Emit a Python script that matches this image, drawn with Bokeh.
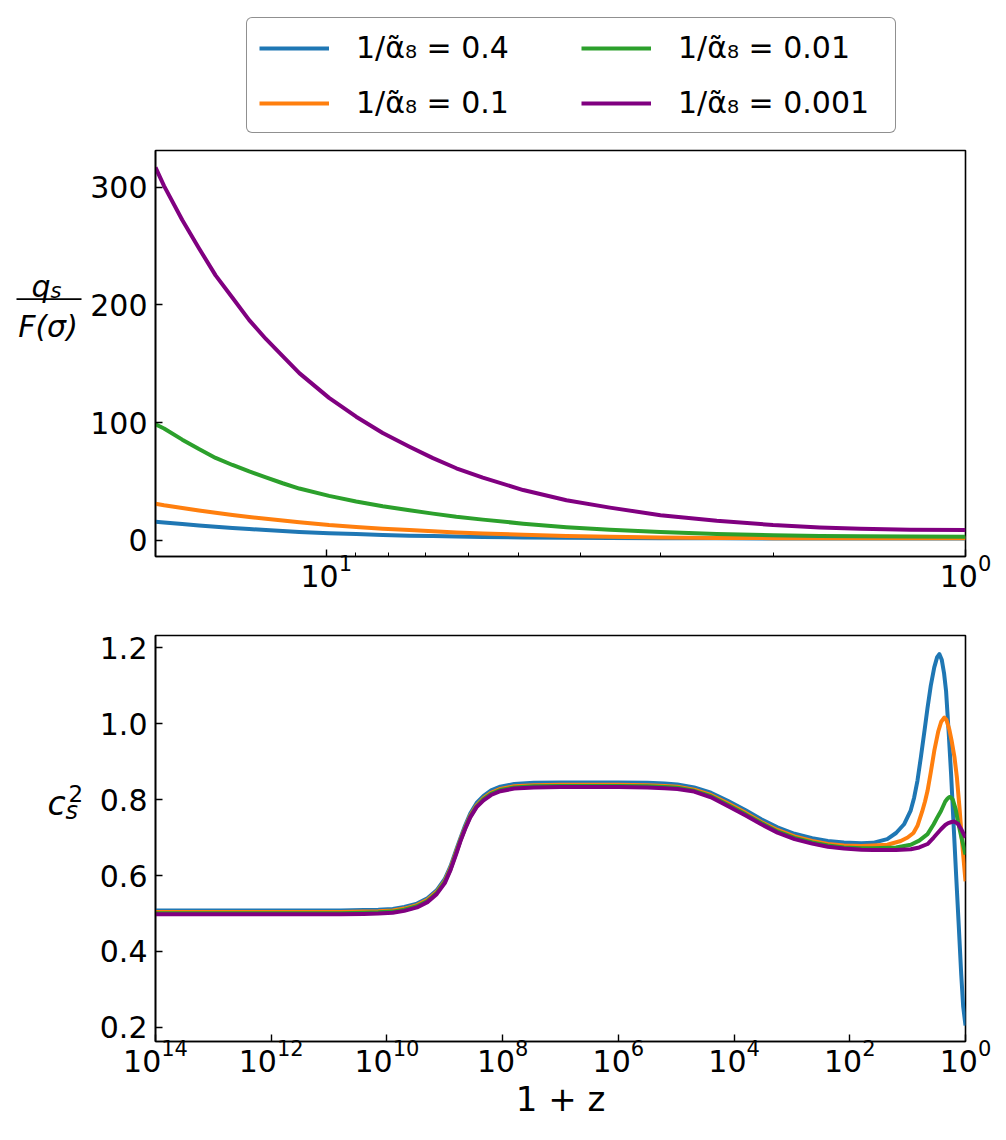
from bokeh.plotting import figure
from bokeh.layouts import column, row
from bokeh.models import (Range1d, FixedTicker, PrintfTickFormatter,
                          Legend, LegendItem)
from bokeh.core.properties import value
from bokeh.embed import file_html
from bokeh.resources import INLINE

# ---------------- data ----------------
series_labels = ["1/α̃₈ = 0.4", "1/α̃₈ = 0.1", "1/α̃₈ = 0.01", "1/α̃₈ = 0.001"]
series_colors = ["#1f77b4", "#ff7f0e", "#2ca02c", "#800080"]

# top panel: q_s / F(sigma) versus 1+z
qs_one_plus_z = [18.5, 17.94, 16.8, 15.82, 14.9, 14.02, 13.2, 12.43, 11.7, 11.02, 9.9, 8.98,
                 8.16, 7.41, 6.81, 6.26, 5.69, 4.92, 4.21, 3.6, 3.0, 2.45, 2.0, 1.69, 1.46,
                 1.22, 1.0]
qs_blue = [15.8, 15.2, 13.9, 12.7, 11.5, 10.5, 9.6, 8.7, 8.0, 7.2, 6.1, 5.3, 4.6, 4.0, 3.6,
           3.2, 2.9, 2.5, 2.2, 2.0, 1.85, 1.7, 1.6, 1.55, 1.5, 1.5, 1.5]
qs_orange = [31.1, 29.8, 27.5, 25.3, 23.4, 21.5, 19.8, 18.3, 16.9, 15.4, 13.0, 11.4, 9.9, 8.7,
             7.7, 6.7, 5.9, 4.7, 3.7, 3.0, 2.5, 2.1, 1.9, 1.8, 1.75, 1.7, 1.7]
qs_green = [98.5, 95.0, 85.5, 77.5, 70.0, 64.0, 58.5, 53.5, 48.5, 44.0, 37.8, 33.0, 29.0, 25.5,
            22.7, 20.0, 17.6, 14.2, 11.2, 9.0, 7.0, 5.5, 4.3, 3.7, 3.4, 3.2, 3.1]
qs_purple = [316.6, 301.0, 272.0, 248.0, 225.0, 206.0, 187.0, 171.0, 156.5, 142.0, 121.0,
             105.0, 91.2, 79.5, 69.8, 61.2, 53.2, 42.7, 34.0, 27.8, 21.3, 16.6, 13.0, 11.0,
             9.9, 9.0, 8.75]

# bottom panel: c_s^2 versus 1+z (x stored as log10(1+z))
cs_head_exp = [14.0, 12.0, 10.8, 10.4, 10.15, 9.9, 9.7, 9.48, 9.3, 9.14, 9.0, 8.9, 8.8, 8.73,
               8.65, 8.56, 8.45, 8.33, 8.2, 8.04, 7.8, 7.46, 7.0, 6.0, 5.5, 5.2, 4.98, 4.69,
               4.4, 4.11, 3.8, 3.53, 3.25, 2.955, 2.65, 2.38, 2.1, 1.8]
cs_blue_head = [0.508, 0.508, 0.508, 0.509, 0.510, 0.512, 0.517, 0.526, 0.540, 0.561, 0.591,
                0.625, 0.669, 0.698, 0.731, 0.763, 0.791, 0.810, 0.824, 0.834, 0.841, 0.844,
                0.845, 0.845, 0.844, 0.842, 0.840, 0.832, 0.818, 0.797, 0.772, 0.748, 0.727,
                0.710, 0.698, 0.691, 0.687, 0.685]
cs_orange_head = [0.504, 0.504, 0.504, 0.505, 0.506, 0.508, 0.513, 0.522, 0.536, 0.557, 0.586,
                  0.620, 0.664, 0.694, 0.726, 0.758, 0.785, 0.804, 0.818, 0.828, 0.835, 0.838,
                  0.839, 0.839, 0.838, 0.836, 0.834, 0.826, 0.812, 0.790, 0.765, 0.741, 0.720,
                  0.703, 0.691, 0.683, 0.679, 0.678]
cs_green_head = [0.501, 0.501, 0.501, 0.502, 0.503, 0.505, 0.510, 0.519, 0.533, 0.554, 0.583,
                 0.617, 0.661, 0.692, 0.724, 0.755, 0.782, 0.801, 0.815, 0.825, 0.832, 0.835,
                 0.836, 0.836, 0.835, 0.833, 0.831, 0.823, 0.809, 0.786, 0.761, 0.738, 0.716,
                 0.699, 0.687, 0.679, 0.674, 0.672]
cs_purple_head = [0.498, 0.498, 0.498, 0.499, 0.500, 0.502, 0.507, 0.516, 0.530, 0.551, 0.580,
                  0.615, 0.658, 0.690, 0.722, 0.753, 0.780, 0.798, 0.812, 0.822, 0.829, 0.832,
                  0.833, 0.833, 0.832, 0.830, 0.828, 0.821, 0.806, 0.783, 0.758, 0.735, 0.713,
                  0.696, 0.684, 0.676, 0.671, 0.668]

cs_blue_tail_exp = [1.6, 1.353, 1.2, 1.062, 0.95, 0.888, 0.83, 0.772, 0.71, 0.656, 0.6, 0.54,
                    0.49, 0.452, 0.41, 0.37, 0.336, 0.29, 0.249, 0.2, 0.163, 0.12, 0.074, 0.04, 0.0]
cs_blue_tail = [0.686, 0.696, 0.712, 0.735, 0.770, 0.805, 0.850, 0.911, 0.980, 1.042, 1.100,
                1.148, 1.175, 1.183, 1.168, 1.132, 1.086, 0.975, 0.867, 0.717, 0.604, 0.478,
                0.340, 0.255, 0.205]
cs_orange_tail_exp = [1.6, 1.35, 1.12, 1.0, 0.9, 0.83, 0.75, 0.7, 0.656, 0.6, 0.54, 0.47, 0.42,
                      0.365, 0.33, 0.28, 0.24, 0.19, 0.15, 0.104, 0.06, 0.0]
cs_orange_tail = [0.679, 0.681, 0.691, 0.700, 0.712, 0.731, 0.768, 0.795, 0.823, 0.872, 0.928,
                  0.980, 1.005, 1.016, 1.010, 0.985, 0.955, 0.911, 0.860, 0.779, 0.690, 0.585]
cs_green_tail_exp = [1.6, 1.2, 0.946, 0.8, 0.656, 0.55, 0.48, 0.424, 0.35, 0.31, 0.279, 0.25,
                     0.22, 0.17, 0.133, 0.07, 0.0]
cs_green_tail = [0.672, 0.674, 0.681, 0.692, 0.709, 0.735, 0.755, 0.770, 0.795, 0.803, 0.807,
                 0.805, 0.800, 0.775, 0.744, 0.700, 0.655]
cs_purple_tail_exp = [1.6, 1.2, 0.946, 0.8, 0.656, 0.55, 0.424, 0.35, 0.3, 0.24, 0.19, 0.13,
                      0.074, 0.0]
cs_purple_tail = [0.667, 0.667, 0.669, 0.674, 0.683, 0.700, 0.722, 0.733, 0.738, 0.741, 0.742,
                  0.736, 0.722, 0.700]

qs_yticks = [0, 100, 200, 300]
qs_xticks = [1, 10]
qs_xminor = [2, 3, 4, 5, 6, 7, 8, 9]
cs_yticks = [0.2, 0.4, 0.6, 0.8, 1.0, 1.2]
cs_xticks = [1e0, 1e2, 1e4, 1e6, 1e8, 1e10, 1e12, 1e14]
cs_xlabel = "1 + z"

FONT = "DejaVu Sans"
TICK_FS = "30px"
LW = 4

TOTAL_W = 995
LEFT_W = 85          # width of the strip holding the y labels
LEG_H = 148          # height of the legend strip
ROW1_H = 458         # height of the first panel row
ROW2_H = 530         # height of the second panel row (incl. x label)


def style(p):
    p.xgrid.visible = False
    p.ygrid.visible = False
    p.outline_line_color = "black"
    p.outline_line_width = 1.6
    p.background_fill_color = "white"
    p.border_fill_color = "white"
    for ax in (p.xaxis[0], p.yaxis[0]):
        ax.axis_line_color = "black"
        ax.axis_line_width = 1.6
        ax.major_tick_in = 7
        ax.major_tick_out = 0
        ax.minor_tick_in = 4
        ax.minor_tick_out = 0
        ax.major_tick_line_width = 1.4
        ax.minor_tick_line_width = 1.0
        ax.major_tick_line_color = "black"
        ax.minor_tick_line_color = "black"
        ax.major_label_text_font = FONT
        ax.major_label_text_font_size = TICK_FS
        ax.major_label_text_color = "black"
        ax.major_label_standoff = 8
    p.xaxis[0].major_label_standoff = -3


def strip(width, height, y_top):
    """A blank figure whose data units are page pixels (y downward)."""
    f = figure(width=width, height=height,
               x_range=Range1d(0, width), y_range=Range1d(y_top + height, y_top),
               x_axis_location=None, y_axis_location=None,
               min_border=0, output_backend="svg", toolbar_location=None)
    f.xgrid.visible = False
    f.ygrid.visible = False
    f.outline_line_color = None
    f.background_fill_color = "white"
    f.border_fill_color = "white"
    return f


def txt(f, x, y, s, size, italic=False, align="left"):
    f.text(x=[x], y=[y], text=[s], text_font=value(FONT), text_font_size=size,
           text_font_style="italic" if italic else "normal",
           text_align=align, text_baseline="alphabetic", text_color="black")


# ---------------- legend strip ----------------
leg = strip(TOTAL_W, LEG_H, 0)
# off-canvas samples: they only carry the line style into the legend
leg_renderers = [leg.line(x=[-20, -10], y=[-20, -20], line_color=c, line_width=LW)
                 for c in series_colors]
legend = Legend(items=[LegendItem(label=l, renderers=[r])
                       for l, r in zip(series_labels, leg_renderers)],
                location=(246, 15), ncols=2, margin=0, padding=12, spacing=20,
                glyph_width=70, glyph_height=30, label_standoff=27, label_width=205,
                label_text_font=FONT, label_text_font_size=TICK_FS,
                label_text_color="black",
                border_line_color="#222222", border_line_width=1.5,
                background_fill_color="white", background_fill_alpha=1.0)
try:
    legend.border_radius = 6
except Exception:
    pass
leg.add_layout(legend)

# ---------------- top panel ----------------
p1 = figure(x_axis_type="log",
            x_range=Range1d(max(qs_one_plus_z), 1.0),
            y_range=Range1d(-13.7, 331.0),
            frame_width=810, frame_height=406,
            min_border_left=70, min_border_right=30,
            min_border_top=2, min_border_bottom=50,
            output_backend="svg", toolbar_location=None)
style(p1)
p1.xaxis[0].ticker = FixedTicker(ticks=qs_xticks, minor_ticks=qs_xminor)
p1.yaxis[0].ticker = FixedTicker(ticks=qs_yticks, minor_ticks=[])

for ys, c in zip([qs_blue, qs_orange, qs_green, qs_purple], series_colors):
    p1.line(qs_one_plus_z, ys, line_color=c, line_width=LW, line_join="round")

lab1 = strip(LEFT_W, ROW1_H, LEG_H)
txt(lab1, 31, 301, "q", "30px", italic=True)
txt(lab1, 50, 306, "s", "21px", italic=True)
lab1.segment(x0=[16], y0=[315.7], x1=[81], y1=[315.7], line_color="black", line_width=1.6)
txt(lab1, 47.5, 346.5, "F(σ)", "30px", italic=True, align="center")

# ---------------- bottom panel ----------------
p2 = figure(x_axis_type="log",
            x_range=Range1d(10 ** max(cs_head_exp), 1.0),
            y_range=Range1d(0.163, 1.232),
            frame_width=810, frame_height=406,
            min_border_left=70, min_border_right=30,
            min_border_top=29, min_border_bottom=95,
            output_backend="svg", toolbar_location=None)
style(p2)
p2.xaxis[0].ticker = FixedTicker(ticks=cs_xticks, minor_ticks=[])
p2.yaxis[0].ticker = FixedTicker(ticks=cs_yticks, minor_ticks=[])
p2.yaxis[0].formatter = PrintfTickFormatter(format="%.1f")
p2.xaxis[0].axis_label = cs_xlabel
p2.xaxis[0].axis_label_text_font = FONT
p2.xaxis[0].axis_label_text_font_size = "34px"
p2.xaxis[0].axis_label_text_font_style = "normal"
p2.xaxis[0].axis_label_text_color = "black"
p2.xaxis[0].axis_label_standoff = 4

heads = [cs_blue_head, cs_orange_head, cs_green_head, cs_purple_head]
tails_x = [cs_blue_tail_exp, cs_orange_tail_exp, cs_green_tail_exp, cs_purple_tail_exp]
tails_y = [cs_blue_tail, cs_orange_tail, cs_green_tail, cs_purple_tail]
for hy, tx, ty, c in zip(heads, tails_x, tails_y, series_colors):
    xs = [10 ** e for e in cs_head_exp + tx]
    ys = hy + ty
    p2.line(xs, ys, line_color=c, line_width=LW, line_join="round")

lab2 = strip(LEFT_W, ROW2_H, LEG_H + ROW1_H)
txt(lab2, 47, 825, "c", "33px", italic=True)
txt(lab2, 65, 835, "s", "24px", italic=True)
txt(lab2, 68, 811.7, "2", "23px")

layout = column(leg, row(lab1, p1, spacing=0), row(lab2, p2, spacing=0), spacing=0)

open("out.html", "w").write(file_html(layout, INLINE))
